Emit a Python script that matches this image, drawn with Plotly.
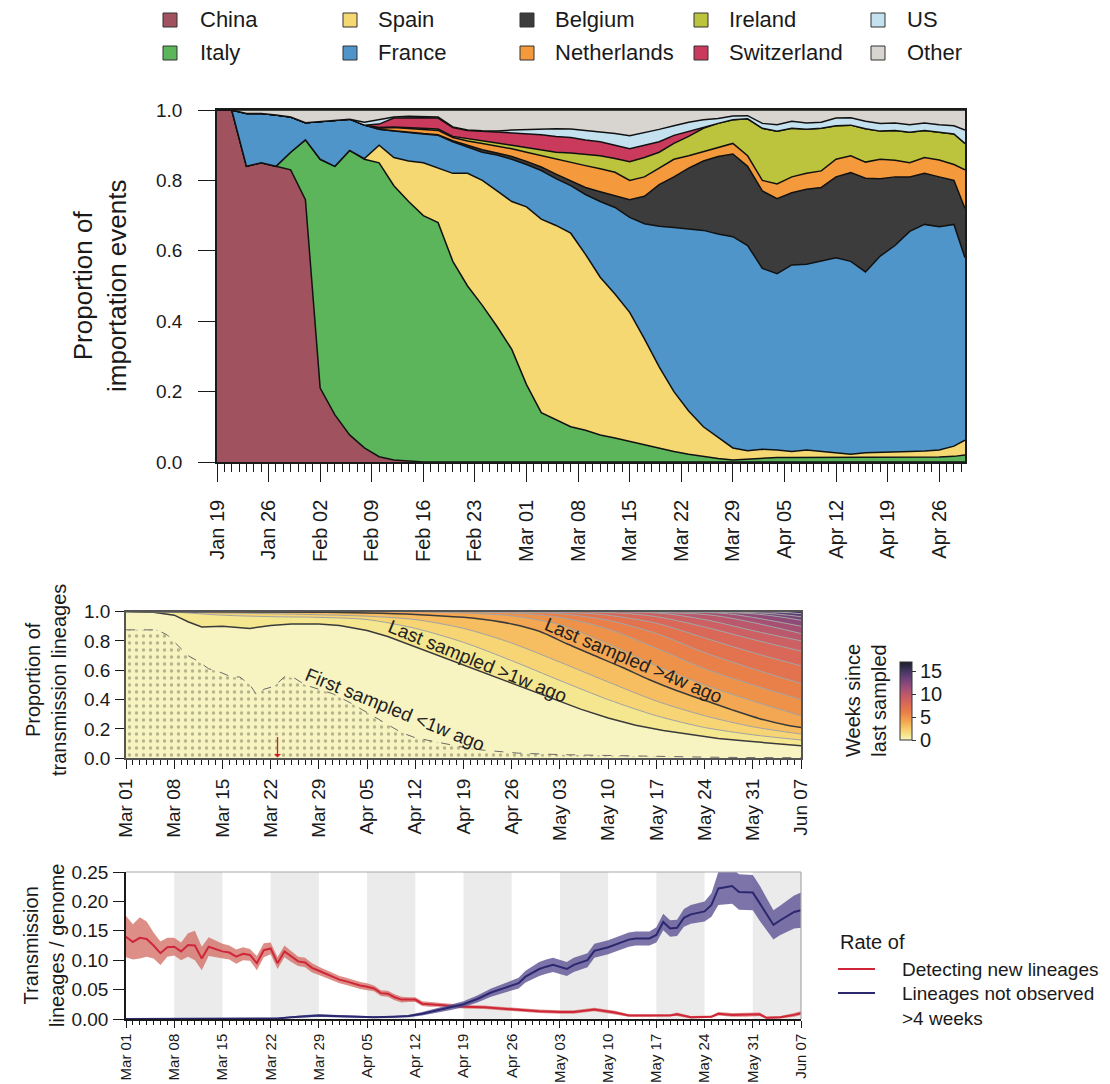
import numpy as np
import pandas as pd
import plotly.graph_objects as go

W, H = 1110, 1084
FONT = "Liberation Sans, Arial, Helvetica, sans-serif"
INK = "#1a1a1a"


def px(x):
    return x / W


def py(y):
    return 1 - y / H


# ------------------------------------------------------------------
# Panel A : proportion of importation events (cumulative upper edges)
# ------------------------------------------------------------------
A_START = pd.Timestamp("2020-01-19")
a_days = list(range(0, 101, 2)) + [101.5]

countries = ["China", "Italy", "Spain", "France", "Belgium",
             "Netherlands", "Ireland", "Switzerland", "US", "Other"]
country_colors = ["#A0525F", "#5DB55B", "#F6D873", "#4F95C9", "#3C3C3C",
                  "#F59A3C", "#BBC43C", "#C93A5C", "#C4E1F0", "#D8D5D0"]

top_china = [1.0, 1.0, 0.84, 0.85, 0.84, 0.83, 0.745, 0.21, 0.134, 0.077,
             0.04, 0.015, 0.006, 0.002, 0, 0, 0, 0, 0, 0,
             0, 0, 0, 0, 0, 0, 0, 0, 0, 0,
             0, 0, 0, 0, 0, 0, 0, 0, 0, 0,
             0, 0, 0, 0, 0, 0, 0, 0, 0, 0,
             0, 0]
top_italy = [1.0, 1.0, 0.84, 0.85, 0.84, 0.88, 0.915, 0.86, 0.84, 0.885,
             0.86, 0.85, 0.785, 0.74, 0.70, 0.68, 0.57, 0.50, 0.445, 0.385,
             0.32, 0.22, 0.14, 0.12, 0.10, 0.09, 0.077, 0.068, 0.058, 0.05,
             0.038, 0.03, 0.022, 0.015, 0.01, 0.006, 0.008, 0.012, 0.013, 0.013,
             0.013, 0.013, 0.012, 0.012, 0.013, 0.013, 0.013, 0.013, 0.014, 0.014,
             0.016, 0.02]
top_spain = [1.0, 1.0, 0.84, 0.85, 0.84, 0.88, 0.915, 0.86, 0.84, 0.885,
             0.862, 0.90, 0.865, 0.855, 0.85, 0.835, 0.82, 0.82, 0.80, 0.77,
             0.74, 0.725, 0.69, 0.672, 0.65, 0.59, 0.525, 0.477, 0.425, 0.35,
             0.27, 0.20, 0.145, 0.10, 0.07, 0.04, 0.032, 0.036, 0.034, 0.03,
             0.034, 0.03, 0.027, 0.022, 0.026, 0.028, 0.03, 0.03, 0.031, 0.034,
             0.045, 0.062]
top_france = [1.0, 1.0, 0.99, 0.99, 0.986, 0.98, 0.964, 0.968, 0.972, 0.974,
              0.957, 0.945, 0.94, 0.935, 0.932, 0.928, 0.91, 0.895, 0.88, 0.872,
              0.86, 0.845, 0.828, 0.805, 0.785, 0.76, 0.74, 0.723, 0.695, 0.677,
              0.67, 0.666, 0.662, 0.658, 0.648, 0.64, 0.615, 0.55, 0.535, 0.56,
              0.562, 0.57, 0.58, 0.57, 0.54, 0.585, 0.615, 0.655, 0.675, 0.668,
              0.675, 0.58]
top_belgium = [1.0, 1.0, 0.99, 0.99, 0.986, 0.98, 0.964, 0.968, 0.972, 0.974,
               0.957, 0.945, 0.941, 0.936, 0.933, 0.93, 0.913, 0.90, 0.887, 0.878,
               0.868, 0.854, 0.838, 0.818, 0.80, 0.78, 0.768, 0.757, 0.745, 0.755,
               0.788, 0.81, 0.835, 0.855, 0.868, 0.875, 0.84, 0.77, 0.748, 0.765,
               0.775, 0.78, 0.81, 0.822, 0.806, 0.805, 0.81, 0.81, 0.82, 0.81,
               0.80, 0.72]
top_netherlands = [1.0, 1.0, 0.99, 0.99, 0.986, 0.98, 0.964, 0.968, 0.972, 0.974,
                   0.957, 0.948, 0.95, 0.947, 0.945, 0.942, 0.922, 0.912, 0.905, 0.898,
                   0.89, 0.88, 0.87, 0.86, 0.85, 0.842, 0.833, 0.823, 0.80, 0.81,
                   0.835, 0.86, 0.87, 0.882, 0.893, 0.905, 0.87, 0.80, 0.79, 0.81,
                   0.82, 0.827, 0.86, 0.87, 0.852, 0.86, 0.857, 0.85, 0.865, 0.858,
                   0.845, 0.83]
top_ireland = [1.0, 1.0, 0.99, 0.99, 0.986, 0.98, 0.964, 0.968, 0.972, 0.974,
               0.957, 0.95, 0.952, 0.95, 0.948, 0.946, 0.925, 0.918, 0.912, 0.906,
               0.90, 0.893, 0.887, 0.88, 0.878, 0.875, 0.87, 0.862, 0.853, 0.865,
               0.88, 0.905, 0.925, 0.948, 0.962, 0.972, 0.975, 0.948, 0.94, 0.948,
               0.945, 0.948, 0.955, 0.957, 0.947, 0.94, 0.942, 0.937, 0.942, 0.937,
               0.932, 0.905]
top_switzerland = [1.0, 1.0, 0.99, 0.99, 0.986, 0.98, 0.964, 0.968, 0.972, 0.974,
                   0.957, 0.96, 0.977, 0.978, 0.978, 0.977, 0.95, 0.942, 0.94, 0.937,
                   0.935, 0.932, 0.93, 0.925, 0.922, 0.915, 0.91, 0.90, 0.89, 0.90,
                   0.91, 0.928, 0.938, 0.95, 0.962, 0.972, 0.975, 0.948, 0.94, 0.948,
                   0.945, 0.948, 0.955, 0.957, 0.947, 0.94, 0.942, 0.937, 0.942, 0.937,
                   0.932, 0.905]
top_us = [1.0, 1.0, 0.99, 0.99, 0.986, 0.98, 0.964, 0.968, 0.972, 0.974,
          0.965, 0.972, 0.98, 0.982, 0.982, 0.98, 0.952, 0.943, 0.941, 0.94,
          0.943, 0.945, 0.947, 0.947, 0.946, 0.942, 0.937, 0.933, 0.927, 0.935,
          0.945, 0.955, 0.965, 0.972, 0.976, 0.983, 0.984, 0.962, 0.958, 0.968,
          0.963, 0.965, 0.977, 0.978, 0.968, 0.962, 0.963, 0.958, 0.963, 0.958,
          0.955, 0.943]
top_other = [1.0] * len(a_days)

# ------------------------------------------------------------------
# Panel B : proportion of transmission lineages by weeks since last sampled
# ------------------------------------------------------------------
B_START = pd.Timestamp("2020-03-01")
first_lt1w_days = [0, 1, 3, 4.5, 6, 7.5, 9, 10.5, 12, 13.5, 15.5, 16.5, 18, 19, 20,
                   21.5, 23, 24.5, 26, 28, 30, 32.5, 35, 37.5, 40, 42, 44.5, 47,
                   49.5, 52, 54, 57, 63, 70, 76, 84, 90, 98]
first_lt1w_vals = [0.875, 0.875, 0.88, 0.875, 0.84, 0.77, 0.70, 0.66, 0.61, 0.59,
                   0.55, 0.555, 0.50, 0.43, 0.47, 0.49, 0.555, 0.545, 0.50, 0.47,
                   0.44, 0.38, 0.31, 0.24, 0.175, 0.14, 0.115, 0.09, 0.07, 0.055,
                   0.045, 0.035, 0.025, 0.018, 0.012, 0.008, 0.005, 0.004]

# upper edge of "last sampled <= k weeks ago" (k = 1 .. 15)
week_edges = {
    1: ([0, 4, 7, 9, 11, 14, 18, 21, 24, 28, 31, 35, 38, 42, 46, 50, 54, 58, 62,
         66, 70, 74, 78, 82, 86, 90, 94, 98],
        [1.0, 0.995, 0.975, 0.93, 0.895, 0.9, 0.885, 0.905, 0.915, 0.915, 0.905,
         0.87, 0.83, 0.76, 0.69, 0.615, 0.545, 0.475, 0.405, 0.335, 0.275, 0.225,
         0.19, 0.16, 0.135, 0.117, 0.1, 0.086]),
    2: ([0, 7, 14, 21, 28, 35, 42, 49, 56, 63, 70, 77, 84, 91, 98],
        [1.0, 0.995, 0.975, 0.965, 0.96, 0.945, 0.885, 0.79, 0.665, 0.53, 0.40,
         0.29, 0.21, 0.16, 0.125]),
    3: ([0, 14, 21, 28, 35, 42, 49, 56, 63, 70, 77, 84, 91, 98],
        [1.0, 0.99, 0.985, 0.978, 0.968, 0.945, 0.885, 0.785, 0.655, 0.52, 0.39,
         0.29, 0.215, 0.165]),
    4: ([0, 28, 35, 42, 49, 52, 56, 60, 64, 68, 72, 76, 80, 84, 88, 92, 96, 98],
        [1.0, 0.995, 0.99, 0.98, 0.96, 0.945, 0.915, 0.865, 0.78, 0.70, 0.62,
         0.535, 0.46, 0.395, 0.33, 0.27, 0.225, 0.21]),
    5: ([0, 42, 49, 56, 63, 70, 77, 84, 91, 98],
        [1.0, 0.998, 0.99, 0.97, 0.91, 0.78, 0.63, 0.50, 0.39, 0.29]),
    6: ([0, 49, 56, 63, 70, 77, 84, 91, 98],
        [1.0, 0.998, 0.99, 0.96, 0.88, 0.75, 0.61, 0.50, 0.40]),
    7: ([0, 56, 63, 70, 77, 84, 91, 98],
        [1.0, 0.997, 0.985, 0.94, 0.85, 0.72, 0.61, 0.51]),
    8: ([0, 63, 70, 77, 84, 91, 98],
        [1.0, 0.995, 0.975, 0.92, 0.82, 0.72, 0.63]),
    9: ([0, 70, 77, 84, 91, 98],
        [1.0, 0.993, 0.965, 0.895, 0.81, 0.73]),
    10: ([0, 77, 84, 91, 98], [1.0, 0.99, 0.945, 0.87, 0.80]),
    11: ([0, 84, 91, 98], [1.0, 0.98, 0.925, 0.85]),
    12: ([0, 86, 91, 98], [1.0, 0.99, 0.96, 0.90]),
    13: ([0, 89, 94, 98], [1.0, 0.99, 0.97, 0.94]),
    14: ([0, 92, 98], [1.0, 0.99, 0.965]),
    15: ([0, 95, 98], [1.0, 0.995, 0.985]),
}
week_colors = ["#F8F4C2", "#F5E690", "#F7D474", "#F6BE60", "#F3A752", "#EF9249",
               "#EA8049", "#E3724F", "#D96858", "#CC6062", "#BB586B", "#A65173",
               "#8F4A78", "#764479", "#5E3D74", "#463563", "#2E2A45"]

# ------------------------------------------------------------------
# Panel C : transmission lineages per genome
# ------------------------------------------------------------------
new_days = list(range(0, 45)) + [46, 49, 52, 54, 57, 60, 63, 65, 68, 71, 73, 76,
                                 79, 80, 82, 85, 86, 88, 90, 92, 93, 95, 97, 98]
new_rate = [0.140, 0.131, 0.138, 0.136, 0.125, 0.112, 0.122, 0.123, 0.115, 0.126,
            0.125, 0.103, 0.123, 0.119, 0.115, 0.113, 0.106, 0.111, 0.109, 0.095,
            0.117, 0.120, 0.095, 0.115, 0.106, 0.098, 0.096, 0.087, 0.082, 0.077,
            0.072, 0.067, 0.064, 0.060, 0.057, 0.055, 0.052, 0.044, 0.043, 0.037,
            0.033, 0.033, 0.033, 0.026, 0.025,
            0.024, 0.021, 0.020, 0.018, 0.016, 0.013, 0.012, 0.012, 0.016, 0.011,
            0.006, 0.006, 0.006, 0.008, 0.003, 0.004, 0.009, 0.007, 0.007, 0.008,
            0.002, 0.003, 0.007, 0.010]
new_halfwidth = [0.035, 0.03, 0.035, 0.03, 0.022, 0.02, 0.016, 0.015, 0.015, 0.02,
                 0.025, 0.02, 0.016, 0.014, 0.013, 0.012, 0.012, 0.011, 0.01, 0.012,
                 0.012, 0.01, 0.01, 0.01, 0.009, 0.008, 0.008, 0.008, 0.007, 0.007,
                 0.007, 0.006, 0.006, 0.006, 0.006, 0.006, 0.005, 0.005, 0.005, 0.005,
                 0.005, 0.004, 0.004, 0.004, 0.004,
                 0.003, 0.003, 0.003, 0.003, 0.003, 0.003, 0.003, 0.003, 0.003, 0.003,
                 0.002, 0.002, 0.002, 0.003, 0.002, 0.002, 0.003, 0.003, 0.003, 0.003,
                 0.002, 0.002, 0.003, 0.003]

lost_days = [0, 10, 20, 22, 24, 26, 28, 30, 33, 36, 39, 41, 43, 45, 47, 49, 51, 53,
             55, 57, 58, 60, 61, 62, 64, 65, 67, 68, 70, 72, 73, 74, 76, 77, 78, 79,
             80, 81, 82, 84, 85, 86, 88, 89, 91, 92, 94, 95, 97, 98]
lost_rate = [0, 0, 0.0005, 0.001, 0.003, 0.005, 0.006, 0.005, 0.004, 0.003,
             0.004, 0.005, 0.009, 0.014, 0.02, 0.025, 0.034, 0.045, 0.053, 0.061,
             0.072, 0.085, 0.089, 0.092, 0.085, 0.092, 0.1, 0.116, 0.122, 0.13,
             0.135, 0.137, 0.137, 0.143, 0.165, 0.154, 0.155, 0.172, 0.178, 0.183,
             0.194, 0.222, 0.226, 0.216, 0.215, 0.197, 0.16, 0.168, 0.182, 0.185]
lost_halfwidth = [0.0005, 0.0005, 0.0008, 0.001, 0.0015, 0.002, 0.002, 0.002, 0.0015, 0.0015,
                  0.0015, 0.002, 0.003, 0.004, 0.005, 0.005, 0.006, 0.007, 0.008, 0.009,
                  0.01, 0.012, 0.012, 0.012, 0.012, 0.012, 0.012, 0.012, 0.012, 0.012,
                  0.012, 0.012, 0.012, 0.013, 0.014, 0.014, 0.014, 0.015, 0.016, 0.017,
                  0.02, 0.028, 0.03, 0.03, 0.03, 0.03, 0.025, 0.025, 0.028, 0.03]

rate_names = ["Detecting new lineages", "Lineages not observed<br>&gt;4 weeks"]
rate_colors = ["#D0263A", "#2B2870"]


def to_dates(start, days):
    return start + pd.to_timedelta(np.asarray(days, dtype=float), unit="D")


fig = go.Figure()

# ---- Panel A traces (stacked shares derived from the read upper edges)
uppers = [top_china, top_italy, top_spain, top_france, top_belgium,
          top_netherlands, top_ireland, top_switzerland, top_us, top_other]
xa = to_dates(A_START, a_days)
prev = np.zeros(len(a_days))
for name, col, up in zip(countries, country_colors, uppers):
    up = np.asarray(up, dtype=float)
    share = np.clip(up - prev, 0, None)
    prev = up
    fig.add_trace(go.Scatter(
        x=xa, y=share, name=name, stackgroup="A", mode="lines",
        line=dict(color="#111111", width=1.5), fillcolor=col,
        xaxis="x", yaxis="y", showlegend=False, hoverinfo="skip"))

# ---- Panel B traces
zero_days = [0, 98]
fig.add_trace(go.Scatter(x=to_dates(B_START, zero_days), y=[0, 0], mode="lines",
                         line=dict(width=0), xaxis="x2", yaxis="y2",
                         showlegend=False, hoverinfo="skip"))
for k in range(1, 16):
    dd, vv = week_edges[k]
    dark = k in (1, 4)
    fig.add_trace(go.Scatter(
        x=to_dates(B_START, dd), y=vv, mode="lines", fill="tonexty",
        fillcolor=week_colors[k - 1],
        line=dict(color="#3a3a3a" if dark else "#a0a0a0",
                  width=1.5 if dark else 1.0,
                  shape="linear" if k == 1 else "spline", smoothing=0.8),
        xaxis="x2", yaxis="y2", showlegend=False, hoverinfo="skip"))
fig.add_trace(go.Scatter(x=to_dates(B_START, zero_days), y=[1, 1], mode="lines",
                         fill="tonexty", fillcolor=week_colors[15],
                         line=dict(width=0), xaxis="x2", yaxis="y2",
                         showlegend=False, hoverinfo="skip"))
fig.add_trace(go.Scatter(
    x=to_dates(B_START, first_lt1w_days), y=first_lt1w_vals, mode="lines",
    fill="tozeroy", fillcolor="rgba(0,0,0,0)",
    fillpattern=dict(shape=".", size=7, solidity=0.18, fgcolor="#6e6e50",
                     bgcolor="rgba(0,0,0,0)"),
    line=dict(color="#6a6a6a", width=1, dash="dash"),
    xaxis="x2", yaxis="y2", showlegend=False, hoverinfo="skip"))

# colour bar for panel B
cb_scale = [[i / 17, c] for i, c in enumerate(week_colors)] + [[1.0, "#1E1E28"]]
fig.add_trace(go.Scatter(
    x=[B_START], y=[-5], mode="markers", xaxis="x2", yaxis="y2",
    marker=dict(size=1, color=[0], cmin=0, cmax=17, colorscale=cb_scale,
                showscale=True,
                colorbar=dict(x=px(900), xanchor="left", y=py(701), yanchor="middle",
                              len=78, lenmode="pixels", thickness=12,
                              thicknessmode="pixels", xpad=0, ypad=0,
                              outlinewidth=1, outlinecolor="#333",
                              tickvals=[0, 5, 10, 15], ticks="outside", ticklen=4,
                              tickcolor="#333", tickfont=dict(size=20, color=INK))),
    showlegend=False, hoverinfo="skip"))


# ---- Panel C traces
def ribbon(days, mid, hw, fill, line_col, name):
    d = to_dates(B_START, days)
    mid = np.asarray(mid)
    hw = np.asarray(hw)
    fig.add_trace(go.Scatter(x=d, y=mid - hw, mode="lines", line=dict(width=0),
                             xaxis="x3", yaxis="y3", showlegend=False,
                             hoverinfo="skip"))
    fig.add_trace(go.Scatter(x=d, y=mid + hw, mode="lines", line=dict(width=0),
                             fill="tonexty", fillcolor=fill, xaxis="x3", yaxis="y3",
                             showlegend=False, hoverinfo="skip"))
    fig.add_trace(go.Scatter(x=d, y=mid, mode="lines", name=name,
                             line=dict(color=line_col, width=2),
                             xaxis="x3", yaxis="y3", showlegend=False))


ribbon(new_days, new_rate, new_halfwidth, "rgba(210,105,95,0.75)", rate_colors[0],
       rate_names[0])
ribbon(lost_days, lost_rate, lost_halfwidth, "rgba(88,78,145,0.78)", rate_colors[1],
       rate_names[1])


# ---- axes
def date_axis(domain, anchor, rng, tick0, ticklen, minorlen, fsize, standoff):
    return dict(domain=domain, anchor=anchor, type="date", range=rng,
                tick0=tick0, dtick=7 * 86400000, tickformat="%b %d",
                tickangle=-90, ticks="outside", ticklen=ticklen, tickwidth=1.2,
                tickcolor=INK, showgrid=False, zeroline=False, showline=True,
                linecolor=INK, linewidth=1.5, tickfont=dict(size=fsize, color=INK),
                ticklabelstandoff=standoff, automargin=False,
                minor=dict(ticks="outside", dtick=86400000, tick0=tick0,
                           ticklen=minorlen, tickwidth=1, tickcolor=INK,
                           showgrid=False))


xA = date_axis([px(217), px(965)], "y", ["2020-01-19", "2020-04-29 12:00"],
               "2020-01-19", 18, 8, 20, 10)
xA.update(mirror=True)
xB = date_axis([px(126), px(801)], "y2", ["2020-03-01", "2020-06-07"],
               "2020-03-01", 9, 5, 19, 2)
xB.update(mirror=True, linecolor="#555")
xC = date_axis([px(126), px(801)], "y3", ["2020-03-01", "2020-06-07"],
               "2020-03-01", 7, 4, 15, 0)


def val_axis(domain, anchor, rng, tickvals, fmt, ticklen, standoff):
    return dict(domain=domain, anchor=anchor, range=rng, tickvals=tickvals,
                tickformat=fmt, ticks="outside", ticklen=ticklen, tickwidth=1.2,
                tickcolor=INK, showgrid=False, zeroline=False, showline=True,
                linecolor=INK, linewidth=1.5, tickfont=dict(size=19, color=INK),
                ticklabelstandoff=standoff, automargin=False)


yA = val_axis([py(462), py(110)], "x", [0, 1], [0, 0.2, 0.4, 0.6, 0.8, 1.0], ".1f", 17, 12)
yA.update(mirror=True)
yB = val_axis([py(758.3), py(611.5)], "x2", [0, 1], [0, 0.2, 0.4, 0.6, 0.8, 1.0], ".1f", 9, 1)
yB.update(mirror=True, linecolor="#555")
yC = val_axis([py(1019), py(872)], "x3", [0, 0.25],
              [0, 0.05, 0.10, 0.15, 0.20, 0.25], ".2f", 11, 1)

# ---- shapes: legend swatches, panel C shaded weeks and frame
shapes = []
legend_cols_x = [170, 350, 527, 701, 878]
legend_rows_y = [20, 53]
for i, (name, col) in enumerate(zip(countries, country_colors)):
    cx = legend_cols_x[i // 2]
    cy = legend_rows_y[i % 2]
    shapes.append(dict(type="rect", xref="paper", yref="paper",
                       x0=px(cx - 7), x1=px(cx + 7), y0=py(cy + 7), y1=py(cy - 7),
                       fillcolor=col, line=dict(color="#333", width=1)))

shade_starts = pd.date_range("2020-03-08", periods=7, freq="14D")
for s in shade_starts:
    shapes.append(dict(type="rect", xref="x3", yref="y3 domain",
                       x0=s, x1=s + pd.Timedelta(days=7), y0=0, y1=1,
                       fillcolor="#EBEBEB", line=dict(width=0), layer="below"))
shapes.append(dict(type="line", xref="x3 domain", yref="y3 domain", x0=0, x1=1,
                   y0=1, y1=1, line=dict(color="#A8A8A8", width=1.2)))
shapes.append(dict(type="line", xref="x3 domain", yref="y3 domain", x0=1, x1=1,
                   y0=0, y1=1, line=dict(color="#A8A8A8", width=1.2)))

# panel C key
key_rows_y = [969, 993]
for col, ky in zip(rate_colors, key_rows_y):
    shapes.append(dict(type="line", xref="paper", yref="paper",
                       x0=px(838), x1=px(875), y0=py(ky), y1=py(ky),
                       line=dict(color=col, width=2)))

# ---- annotations
ann = []
legend_text_x = [198, 376, 553, 727, 905]
for i, name in enumerate(countries):
    ann.append(dict(text=name, xref="paper", yref="paper",
                    x=px(legend_text_x[i // 2]), y=py(legend_rows_y[i % 2]),
                    xanchor="left", yanchor="middle", showarrow=False,
                    font=dict(size=22, color=INK)))

ann.append(dict(text="Rate of", xref="paper", yref="paper", x=px(838), y=py(942),
                xanchor="left", yanchor="middle", showarrow=False,
                font=dict(size=20, color=INK)))
ann.append(dict(text=rate_names[0], xref="paper", yref="paper",
                x=px(900), y=py(969), xanchor="left", yanchor="middle",
                showarrow=False, font=dict(size=19, color=INK)))
ann.append(dict(text=rate_names[1], xref="paper", yref="paper",
                x=px(900), y=py(981), xanchor="left", yanchor="top", align="left",
                showarrow=False, font=dict(size=19, color=INK)))

ann.append(dict(text="Proportion of<br>importation events", xref="paper", yref="paper",
                x=px(100), y=py(286), textangle=-90, showarrow=False,
                xanchor="center", yanchor="middle", font=dict(size=26, color=INK)))
ann.append(dict(text="Proportion of<br>transmission lineages", xref="paper", yref="paper",
                x=px(46), y=py(680), textangle=-90, showarrow=False,
                xanchor="center", yanchor="middle", font=dict(size=20, color=INK)))
ann.append(dict(text="Transmission<br>lineages / genome", xref="paper", yref="paper",
                x=px(44), y=py(946), textangle=-90, showarrow=False,
                xanchor="center", yanchor="middle", font=dict(size=20, color=INK)))
ann.append(dict(text="Weeks since<br>last sampled", xref="paper", yref="paper",
                x=px(866), y=py(701), textangle=-90, showarrow=False,
                xanchor="center", yanchor="middle", font=dict(size=20, color=INK)))


def bdate(d):
    return B_START + pd.Timedelta(days=d)


ann.append(dict(text="Last sampled &gt;1w ago", xref="x2", yref="y2",
                x=bdate(51.1), y=0.657, textangle=22, showarrow=False,
                font=dict(size=19, color="#222")))
ann.append(dict(text="Last sampled &gt;4w ago", xref="x2", yref="y2",
                x=bdate(73.7), y=0.665, textangle=23, showarrow=False,
                font=dict(size=19, color="#222")))
ann.append(dict(text="First sampled &lt;1w ago", xref="x2", yref="y2",
                x=bdate(39.0), y=0.33, textangle=22, showarrow=False,
                font=dict(size=19, color="#222")))
ann.append(dict(text="", xref="x2", yref="y2", x=bdate(22), y=0.005,
                ax=0, ay=-22, showarrow=True, arrowhead=1, arrowsize=0.9,
                arrowwidth=1.3, arrowcolor="#D0202A"))

fig.update_layout(
    width=W, height=H, margin=dict(l=0, r=0, t=0, b=0, autoexpand=False),
    paper_bgcolor="white", plot_bgcolor="white",
    font=dict(family=FONT, size=19, color=INK),
    xaxis=xA, yaxis=yA, xaxis2=xB, yaxis2=yB, xaxis3=xC, yaxis3=yC,
    shapes=shapes, annotations=ann,
    showlegend=False,
)

fig.write_html("out.html",
               config={"displayModeBar": False},
               post_script="document.body.style.margin='0px';"
                           "document.body.style.padding='0px';"
                           "document.body.style.overflow='hidden';")
